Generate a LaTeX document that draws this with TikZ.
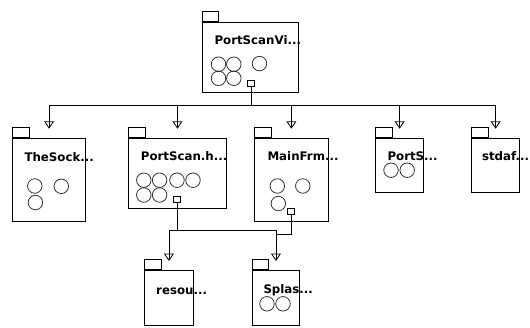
\documentclass[tikz,border=0pt]{standalone}
\usepackage{fontspec}
\setmainfont{DejaVu Sans}
\usetikzlibrary{calc}
\tikzset{
  pkg/.style={draw, line width=0.9pt, inner sep=0pt, anchor=north west},
  pkgtab/.style={draw, line width=0.9pt, inner sep=0pt, minimum width=16.7pt, minimum height=9.7pt, anchor=south west},
  lbl/.style={anchor=base west, inner sep=0pt, font=\bfseries\fontsize{11.8}{14}\selectfont},
  cls/.style={circle, draw=black!80, line width=0.8pt, minimum size=14.5pt, inner sep=0pt},
  port/.style={draw, rectangle, fill=white, minimum width=7pt, minimum height=6pt, inner sep=0pt, line width=0.8pt},
  conn/.style={line width=0.9pt},
  pics/deptri/.style={code={\draw[line width=0.8pt] (-4.3,6.3) -- (4.3,6.3) -- (0,0) -- cycle;}}
}
\begin{document}
\begin{tikzpicture}[x=1pt,y=1pt]
\fill[white] (0,0) rectangle (530,-327);
\useasboundingbox (0,0) rectangle (530,-327);

% package boxes
\node[pkg, minimum width=96.3pt, minimum height=70.6pt] (psv)   at (201.7,-21.7) {};
\node[pkg, minimum width=72.7pt, minimum height=83.3pt] (sock)  at (12.3,-137.7) {};
\node[pkg, minimum width=97.4pt, minimum height=70.6pt] (psh)   at (128.3,-137.7) {};
\node[pkg, minimum width=73.2pt, minimum height=82.8pt] (mfrm)  at (254.3,-137.7) {};
\node[pkg, minimum width=48.3pt, minimum height=54.6pt] (ports) at (375,-137.7) {};
\node[pkg, minimum width=48.3pt, minimum height=54.6pt] (stdaf) at (471,-137.7) {};
\node[pkg, minimum width=48.4pt, minimum height=55pt]   (resou) at (144.3,-270) {};
\node[pkg, minimum width=47.6pt, minimum height=55pt]   (splas) at (251.7,-270) {};

% folder tabs and arrow tip points
\foreach \pk in {psv,sock,psh,mfrm,ports,stdaf,resou,splas}{
  \node[pkgtab] (\pk tab) at (\pk.north west) {};
  \coordinate (\pk tip) at ($(\pk.north)+(0,9.7)$);
}

% labels
\node[lbl] (psvlbl)   at (214.3,-44.3) {PortScanVi...};
\node[lbl] (socklbl)  at (24.3,-161.3) {TheSock...};
\node[lbl] (pshlbl)   at (140.7,-160.9) {PortScan.h...};
\node[lbl] (mfrmlbl)  at (267.3,-160.9) {MainFrm...};
\node[lbl] (portslbl) at (387.3,-160.9) {PortS...};
\node[lbl] (stdaflbl) at (481.8,-160.9) {stdaf...};
\node[lbl] (resoulbl) at (156,-294) {resou...};
\node[lbl] (splaslbl) at (263.3,-293.5) {Splas...};

% class icons
\node[cls] (psvc1) at (218.5,-64.2) {};
\node[cls] (psvc2) at (233.8,-64.2) {};
\node[cls] (psvc3) at (259.5,-63.6) {};
\node[cls] (psvc4) at (218.5,-78.3) {};
\node[cls] (psvc5) at (233.8,-78.3) {};

\node[cls] (sockc1) at (34.8,-186) {};
\node[cls] (sockc2) at (61.3,-186.3) {};
\node[cls] (sockc3) at (35.4,-202.5) {};

\node[cls] (pshc1) at (143.8,-180.2) {};
\node[cls] (pshc2) at (159.6,-180.2) {};
\node[cls] (pshc3) at (177,-180.2) {};
\node[cls] (pshc4) at (193,-180.2) {};
\node[cls] (pshc5) at (143.8,-195) {};
\node[cls] (pshc6) at (159.6,-195) {};

\node[cls] (mfrmc1) at (277.3,-186) {};
\node[cls] (mfrmc2) at (302.8,-186) {};
\node[cls] (mfrmc3) at (278.3,-203.5) {};

\node[cls] (portsc1) at (391,-170.2) {};
\node[cls] (portsc2) at (407.2,-170.2) {};

\node[cls] (splasc1) at (267,-303.8) {};
\node[cls] (splasc2) at (283,-303.8) {};

% dependency ports
\node[port] (psvport)  at (251,-83.5) {};
\node[port] (pshport)  at (177,-199.5) {};
\node[port] (mfrmport) at (291,-211.3) {};

% bus levels
\coordinate (busA) at (0,-105.5);
\coordinate (busB) at (0,-230);
\coordinate (busC) at (0,-234.5);

% dependencies
\foreach \tg in {sock,psh,mfrm,ports,stdaf}{
  \draw[conn] (psvport.south) -- (psvport |- busA) -| (\tg tip);
  \pic at (\tg tip) {deptri};
}
\draw[conn] (pshport.south) -- (pshport |- busB) -| (resoutip);
\draw[conn] (pshport |- busB) -| (splastip);
\draw[conn] (mfrmport.south) -- (mfrmport |- busC) -| (splastip);
\pic at (resoutip) {deptri};
\pic at (splastip) {deptri};
\end{tikzpicture}
\end{document}
